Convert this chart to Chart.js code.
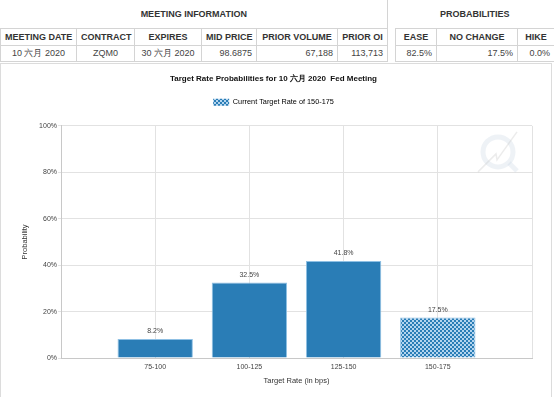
<!DOCTYPE html>
<html>
<head>
<meta charset="utf-8">
<script src="https://cdn.jsdelivr.net/npm/chart.js@4.4.0/dist/chart.umd.min.js"></script>
<style>
  body { margin: 0; background: #fff; font-family: Arial, "Liberation Sans", sans-serif; color: #333; }
  table { position: absolute; top: 0; border-collapse: collapse; table-layout: fixed; font-size: 9px; }
  th, td { border: 1px solid #d4d4d4; padding: 0 4px; white-space: nowrap; overflow: hidden; box-sizing: border-box; }
  th { font-weight: bold; color: #333; text-align: center; }
  td { color: #444; text-align: right; }
  td.c { text-align: center; }
  tr.group th { height: 28px; border-top: none; border-left: none; }
  tr.head th { height: 17px; }
  tr.vals td { height: 16px; }
  #panel { position: absolute; left: 0; top: 63px; width: 552px; height: 340px; border: 1px solid #dcdcdc; box-sizing: border-box; }
  #chartBox { position: absolute; left: 0; top: 64px; width: 552px; height: 333px; }
</style>
</head>
<body>
<table id="meetingTable" style="left:0;width:387px"></table>
<table id="probTable" style="left:395px;width:159px"></table>
<div id="panel"></div>
<div id="chartBox"><canvas id="probChart" width="552" height="333"></canvas></div>
<script>
// Target rate buckets and their probabilities (in %)
const categories = ['75-100', '100-125', '125-150', '150-175'];
const probabilities = [8.2, 32.5, 41.8, 17.5];
const currentRate = '150-175';
const yTicks = [0, 20, 40, 60, 80, 100];

// Table text above the chart
const meetingHeaders = ['MEETING DATE', 'CONTRACT', 'EXPIRES', 'MID PRICE', 'PRIOR VOLUME', 'PRIOR OI'];
const meetingValues = ['10 六月 2020', 'ZQM0', '30 六月 2020', '98.6875', '67,188', '113,713'];
const meetingWidths = [76, 58, 67, 55, 81, 50];
const probHeaders = ['EASE', 'NO CHANGE', 'HIKE'];
const probValues = ['82.5%', '17.5%', '0.0%'];
const probWidths = [41, 81, 37];

const barBlue = '#2a7db6';

function buildTable(id, title, headers, values, widths, centered) {
  const t = document.getElementById(id);
  let html = '<colgroup>' + widths.map(w => '<col style="width:' + w + 'px">').join('') + '</colgroup>';
  html += '<tr class="group"><th colspan="' + headers.length + '">' + title + '</th></tr>';
  html += '<tr class="head">' + headers.map(h => '<th>' + h + '</th>').join('') + '</tr>';
  html += '<tr class="vals">' + values.map((v, i) => '<td' + (centered.includes(i) ? ' class="c"' : '') + '>' + v + '</td>').join('') + '</tr>';
  t.innerHTML = html;
}
buildTable('meetingTable', 'MEETING INFORMATION', meetingHeaders, meetingValues, meetingWidths, [0, 1, 2]);
buildTable('probTable', 'PROBABILITIES', probHeaders, probValues, probWidths, []);

// checkered fill for the current target rate bar
function makeHatch() {
  const c = document.createElement('canvas');
  c.width = 4; c.height = 4;
  const g = c.getContext('2d');
  g.fillStyle = barBlue;
  g.fillRect(0, 0, 4, 4);
  g.fillStyle = '#b3d4ee';
  g.fillRect(0, 0, 2, 2);
  g.fillRect(2, 2, 2, 2);
  return g.createPattern(c, 'repeat');
}
const hatch = makeHatch();

// empty slots either side so the bars sit on the gridlines
const xLabels = ['', ...categories, ''];
const barData = [null, ...probabilities, null];
const barColors = xLabels.map(c => c === currentRate ? hatch : barBlue);

// push the plot down a bit below the legend
const legendGap = {
  id: 'legendGap',
  beforeInit(chart) {
    const fit = chart.legend.fit;
    chart.legend.fit = function () {
      fit.call(this);
      this.height += 10;
    };
  }
};

// percentage text on top of each bar
const barLabels = {
  id: 'barLabels',
  afterDatasetsDraw(chart) {
    const ctx = chart.ctx;
    const meta = chart.getDatasetMeta(0);
    ctx.save();
    ctx.font = '7px Arial';
    ctx.fillStyle = '#444';
    ctx.textAlign = 'center';
    ctx.textBaseline = 'middle';
    meta.data.forEach((bar, i) => {
      const v = barData[i];
      if (v == null) return;
      ctx.fillText(v.toFixed(1) + '%', bar.x, bar.y - 7.5);
    });
    ctx.restore();
  }
};

// faint logo in the top right corner of the plot
const watermark = {
  id: 'watermark',
  beforeDatasetsDraw(chart) {
    const {ctx, chartArea} = chart;
    const cx = chartArea.right - 34, cy = chartArea.top + 26;
    ctx.save();
    ctx.strokeStyle = 'rgba(205,218,230,0.35)';
    ctx.lineWidth = 5;
    ctx.beginPath();
    ctx.arc(cx, cy, 15, 0, Math.PI * 2);
    ctx.stroke();
    ctx.beginPath();
    ctx.moveTo(cx + 11, cy + 11);
    ctx.lineTo(cx + 19, cy + 19);
    ctx.stroke();
    ctx.lineWidth = 1.5;
    ctx.strokeStyle = 'rgba(200,200,200,0.35)';
    ctx.beginPath();
    ctx.moveTo(cx - 20, cy + 20);
    ctx.lineTo(cx - 2, cy + 2);
    ctx.lineTo(cx - 1, cy + 8);
    ctx.lineTo(cx + 19, cy - 20);
    ctx.stroke();
    ctx.restore();
  }
};

const probChart = new Chart(document.getElementById('probChart'), {
  type: 'bar',
  data: {
    labels: xLabels,
    datasets: [{
      label: 'Probability',
      data: barData,
      backgroundColor: barColors,
      borderColor: '#8fc0e4',
      borderWidth: 1,
      barPercentage: 1,
      categoryPercentage: 0.8
    }]
  },
  options: {
    responsive: false,
    animation: false,
    layout: { padding: { left: 15, right: 20, top: 0, bottom: 9 } },
    plugins: {
      tooltip: { enabled: false },
      title: {
        display: true,
        text: 'Target Rate Probabilities for ' + meetingValues[0] + '  Fed Meeting',
        color: '#111',
        font: { family: 'Arial', size: 8, weight: 'bold' },
        padding: { top: 10, bottom: 7 }
      },
      legend: {
        display: true,
        onClick: null,
        labels: {
          boxWidth: 16,
          boxHeight: 7,
          padding: 8,
          color: '#333',
          font: { family: 'Arial', size: 7.3 },
          generateLabels: () => [{
            text: 'Current Target Rate of ' + currentRate,
            fillStyle: hatch,
            strokeStyle: '#8fc0e4',
            lineWidth: 0,
            hidden: false,
            datasetIndex: 0
          }]
        }
      }
    },
    scales: {
      x: {
        offset: false,
        grid: { offset: false, color: '#e2e2e2', drawTicks: false },
        border: { color: '#c8c8c8' },
        ticks: { color: '#444', font: { family: 'Arial', size: 7 }, padding: 4.5, autoSkip: false, maxRotation: 0 },
        title: { display: true, text: 'Target Rate (in bps)', color: '#333', font: { family: 'Arial', size: 7.5 }, padding: { top: 0, bottom: 3 } },
        afterFit(scale) { scale.height = 30; }
      },
      y: {
        min: yTicks[0],
        max: yTicks[yTicks.length - 1],
        grid: { color: '#e2e2e2', tickLength: 3 },
        border: { color: '#c8c8c8' },
        ticks: { stepSize: yTicks[1] - yTicks[0], color: '#444', font: { family: 'Arial', size: 7 }, padding: 1, callback: v => v + '%' },
        title: { display: true, text: 'Probability', color: '#333', font: { family: 'Arial', size: 7.5 }, padding: { top: 5.5, bottom: 0 } },
        afterFit(scale) { scale.width = 46; }
      }
    }
  },
  plugins: [legendGap, barLabels, watermark]
});
</script>
</body>
</html>
